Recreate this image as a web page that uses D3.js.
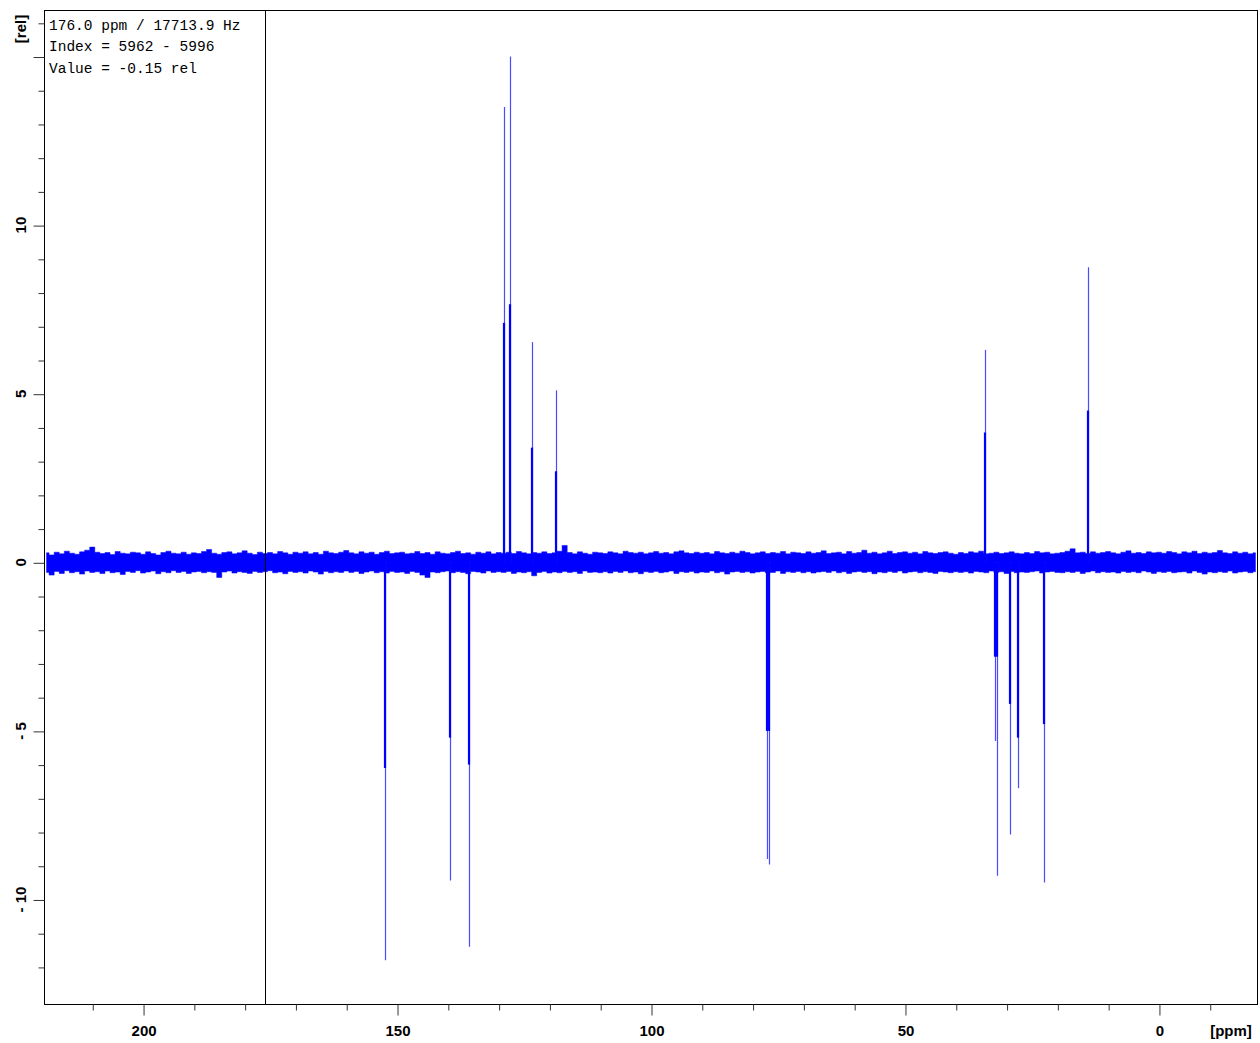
<!DOCTYPE html>
<html>
<head>
<meta charset="utf-8">
<script src="https://cdn.jsdelivr.net/npm/d3@7"></script>
<style>
  html, body { margin: 0; padding: 0; background: #fff; }
  svg { display: block; }
</style>
</head>
<body>
<svg id="chart" width="1260" height="1043"></svg>
<script>
// ---------------- DATA ----------------
const xDomain = [219.5, -19.5];          // ppm (reversed NMR axis)
const yDomain = [16.38, -13.1];          // rel
const xMajorTicks = [200, 150, 100, 50, 0];
const xMinorTicks = [210, 190, 180, 170, 160, 140, 130, 120, 110, 90, 80, 70, 60, 40, 30, 20, 10, -10];
const yMajorTicks = [15, 10, 5, 0, -5, -10];
const yLabelTicks = [10, 5, 0, -5, -10];
const yMinorTicks = [16, 14, 13, 12, 11, 9, 8, 7, 6, 4, 3, 2, 1, -1, -2, -3, -4, -6, -7, -8, -9, -11, -12];
const cursorPpm = 176.0;
const infoLines = ["176.0 ppm / 17713.9 Hz", "Index = 5962 - 5996", "Value = -0.15 rel"];

// peaks: position (ppm), extreme value, shoulder value (rel)
const peakPpm      = [152.4, 139.6, 135.8, 128.9, 127.7, 123.4, 118.7, 77.2, 76.8, 34.3, 32.3, 31.8, 29.3, 27.8, 22.6, 14.0];
const peakTop      = [-11.8, -9.44, -11.4, 13.5, 15.0, 6.53, 5.1, -8.8, -8.96, 6.3, -5.3, -9.3, -8.07, -6.7, -9.5, 8.75];
const peakShoulder = [-6.1, -5.2, -6.0, 7.1, 7.65, 3.4, 2.7, -5.0, -5.0, 3.85, -2.8, -2.8, -4.2, -5.2, -4.8, 4.5];

// baseline noise envelope, 1 ppm bins from 219 down to -19 (rel)
const noisePpmStart = 219;
const noiseUpper = [
 0.28,0.22,0.30,0.25,0.33,0.27,0.24,0.31,0.36,0.45,
 0.30,0.26,0.29,0.23,0.32,0.27,0.25,0.30,0.28,0.24,
 0.31,0.26,0.22,0.29,0.33,0.27,0.25,0.30,0.24,0.28,
 0.26,0.32,0.38,0.27,0.24,0.29,0.31,0.25,0.28,0.34,
 0.27,0.23,0.30,0.26,0.29,0.25,0.32,0.28,0.24,0.30,
 0.27,0.31,0.25,0.29,0.24,0.33,0.28,0.26,0.30,0.35,
 0.28,0.25,0.31,0.27,0.30,0.24,0.29,0.33,0.26,0.28,
 0.30,0.25,0.27,0.32,0.26,0.29,0.24,0.31,0.27,0.25,
 0.29,0.33,0.26,0.28,0.24,0.30,0.27,0.31,0.25,0.29,
 0.27,0.30,0.26,0.32,0.28,0.25,0.29,0.27,0.31,0.26,
 0.28,0.33,0.50,0.29,0.25,0.31,0.27,0.24,0.30,0.28,
 0.26,0.31,0.28,0.25,0.33,0.29,0.27,0.30,0.25,0.28,
 0.32,0.27,0.29,0.25,0.31,0.34,0.28,0.26,0.30,0.27,
 0.29,0.25,0.32,0.28,0.26,0.30,0.27,0.33,0.29,0.25,
 0.28,0.31,0.26,0.29,0.27,0.32,0.25,0.30,0.28,0.26,
 0.31,0.27,0.29,0.34,0.26,0.28,0.30,0.25,0.32,0.27,
 0.29,0.36,0.27,0.30,0.25,0.28,0.33,0.26,0.29,0.31,
 0.27,0.30,0.25,0.32,0.28,0.26,0.29,0.31,0.27,0.24,
 0.29,0.26,0.31,0.28,0.33,0.25,0.27,0.30,0.26,0.28,
 0.31,0.27,0.25,0.29,0.26,0.32,0.28,0.30,0.25,0.27,
 0.29,0.33,0.40,0.28,0.30,0.26,0.31,0.27,0.29,0.32,
 0.28,0.25,0.30,0.34,0.27,0.29,0.26,0.31,0.28,0.30,
 0.27,0.32,0.29,0.25,0.31,0.28,0.33,0.26,0.30,0.27,
 0.29,0.35,0.28,0.26,0.31,0.27,0.30,0.25,0.28
];
const noiseLower = [
 -0.30,-0.38,-0.27,-0.33,-0.25,-0.31,-0.28,-0.35,-0.26,-0.30,
 -0.28,-0.33,-0.26,-0.31,-0.29,-0.36,-0.27,-0.30,-0.25,-0.32,
 -0.29,-0.26,-0.34,-0.28,-0.31,-0.25,-0.30,-0.27,-0.33,-0.29,
 -0.27,-0.31,-0.28,-0.30,-0.45,-0.29,-0.26,-0.32,-0.28,-0.30,
 -0.33,-0.27,-0.30,-0.28,-0.25,-0.31,-0.29,-0.34,-0.27,-0.30,
 -0.28,-0.32,-0.26,-0.29,-0.35,-0.27,-0.31,-0.28,-0.30,-0.26,
 -0.30,-0.27,-0.33,-0.29,-0.26,-0.31,-0.28,-0.32,-0.27,-0.30,
 -0.29,-0.33,-0.27,-0.30,-0.38,-0.45,-0.29,-0.31,-0.28,-0.26,
 -0.31,-0.28,-0.30,-0.34,-0.27,-0.29,-0.32,-0.26,-0.30,-0.28,
 -0.30,-0.27,-0.33,-0.29,-0.31,-0.28,-0.40,-0.30,-0.27,-0.32,
 -0.29,-0.31,-0.27,-0.30,-0.28,-0.33,-0.26,-0.30,-0.29,-0.31,
 -0.28,-0.32,-0.27,-0.30,-0.26,-0.31,-0.29,-0.34,-0.28,-0.30,
 -0.27,-0.31,-0.29,-0.26,-0.33,-0.28,-0.30,-0.27,-0.32,-0.29,
 -0.30,-0.26,-0.31,-0.28,-0.35,-0.29,-0.27,-0.30,-0.28,-0.32,
 -0.29,-0.27,-0.31,-0.30,-0.26,-0.33,-0.28,-0.30,-0.27,-0.31,
 -0.28,-0.32,-0.29,-0.27,-0.30,-0.26,-0.31,-0.28,-0.33,-0.29,
 -0.27,-0.30,-0.28,-0.34,-0.29,-0.31,-0.27,-0.30,-0.26,-0.32,
 -0.29,-0.27,-0.31,-0.28,-0.30,-0.33,-0.27,-0.29,-0.31,-0.28,
 -0.30,-0.28,-0.32,-0.27,-0.29,-0.31,-0.26,-0.30,-0.28,-0.33,
 -0.27,-0.31,-0.29,-0.30,-0.28,-0.26,-0.32,-0.29,-0.27,-0.30,
 -0.31,-0.28,-0.30,-0.27,-0.33,-0.29,-0.26,-0.31,-0.28,-0.30,
 -0.29,-0.32,-0.27,-0.30,-0.28,-0.31,-0.26,-0.29,-0.33,-0.28,
 -0.30,-0.27,-0.31,-0.29,-0.28,-0.32,-0.26,-0.30,-0.35,-0.29,
 -0.31,-0.28,-0.30,-0.26,-0.32,-0.29,-0.27,-0.31,-0.28
];

// ---------------- CHART ----------------
const svg = d3.select("#chart");
const pLeft = 44, pRight = 1258, pTop = 10, pBottom = 1004;
const x = d3.scaleLinear().domain(xDomain).range([pLeft, pRight]);
const y = d3.scaleLinear().domain(yDomain).range([pTop, pBottom]);
const blue = "#0000ff";
const labelFont = "'Liberation Sans', Arial, sans-serif";

svg.append("defs").append("clipPath").attr("id", "clip")
  .append("rect").attr("x", pLeft).attr("y", pTop).attr("width", pRight - pLeft).attr("height", pBottom - pTop);
const plot = svg.append("g").attr("clip-path", "url(#clip)");

// noise band
const noiseData = noiseUpper.map((u, i) => ({ ppm: noisePpmStart - i, u: u, l: noiseLower[i] }));
const area = d3.area().curve(d3.curveStep)
  .x(d => x(d.ppm)).y0(d => y(d.l)).y1(d => y(d.u));
plot.append("path").datum(noiseData).attr("d", area)
  .attr("fill", blue).attr("stroke", blue).attr("stroke-width", 0.5);

// peaks
const peaks = peakPpm.map((p, i) => ({ ppm: p, top: peakTop[i], sh: peakShoulder[i] }));
plot.selectAll("line.tall").data(peaks).enter().append("line")
  .attr("class", "tall")
  .attr("x1", d => Math.round(x(d.ppm)) + 0.5).attr("x2", d => Math.round(x(d.ppm)) + 0.5)
  .attr("y1", y(0)).attr("y2", d => y(d.top))
  .attr("stroke", "#4a4aff").attr("stroke-width", 1.2);
plot.selectAll("line.sh").data(peaks).enter().append("line")
  .attr("class", "sh")
  .attr("x1", d => Math.round(x(d.ppm))).attr("x2", d => Math.round(x(d.ppm)))
  .attr("y1", y(0)).attr("y2", d => y(d.sh))
  .attr("stroke", blue).attr("stroke-width", 2.2);

// cursor line
svg.append("line")
  .attr("x1", Math.round(x(cursorPpm)) + 0.5).attr("x2", Math.round(x(cursorPpm)) + 0.5)
  .attr("y1", pTop).attr("y2", pBottom)
  .attr("stroke", "#000").attr("stroke-width", 1);

// frame
svg.append("rect").attr("x", pLeft + 0.5).attr("y", pTop + 0.5)
  .attr("width", pRight - pLeft - 1).attr("height", pBottom - pTop)
  .attr("fill", "none").attr("stroke", "#000").attr("stroke-width", 1);

// x axis ticks
const xAxisG = svg.append("g").attr("transform", `translate(0.5,${pBottom + 0.5})`);
xAxisG.call(d3.axisBottom(x).tickValues(xMinorTicks).tickSize(6).tickFormat(""));
const xAxisMaj = svg.append("g").attr("transform", `translate(0.5,${pBottom + 0.5})`);
xAxisMaj.call(d3.axisBottom(x).tickValues(xMajorTicks).tickSize(11).tickPadding(10).tickFormat(d3.format("d")));
[xAxisG, xAxisMaj].forEach(g => {
  g.select(".domain").remove();
  g.selectAll(".tick line").attr("stroke", "#333");
});
xAxisMaj.selectAll(".tick text")
  .attr("font-family", labelFont).attr("font-size", 15).attr("font-weight", "bold").attr("fill", "#000");

svg.append("text").attr("x", 1231).attr("y", 1036).attr("text-anchor", "middle")
  .attr("font-family", labelFont).attr("font-size", 15).attr("font-weight", "bold")
  .text("[ppm]");

// y axis ticks
const yAxisG = svg.append("g").attr("transform", `translate(${pLeft + 0.5},0.5)`);
yAxisG.call(d3.axisLeft(y).tickValues(yMinorTicks).tickSize(6).tickFormat(""));
const yAxisMaj = svg.append("g").attr("transform", `translate(${pLeft + 0.5},0.5)`);
yAxisMaj.call(d3.axisLeft(y).tickValues(yMajorTicks).tickSize(11).tickFormat(""));
[yAxisG, yAxisMaj].forEach(g => {
  g.select(".domain").remove();
  g.selectAll(".tick line").attr("stroke", "#333");
});
svg.selectAll("text.ylab").data(yLabelTicks).enter().append("text")
  .attr("class", "ylab")
  .attr("transform", d => `translate(26,${y(d)}) rotate(-90)`)
  .attr("text-anchor", "middle")
  .attr("font-family", labelFont).attr("font-size", 15).attr("font-weight", "bold")
  .text(d => d < 0 ? "- " + Math.abs(d) : String(d));

svg.append("text")
  .attr("transform", `translate(26,29) rotate(-90)`)
  .attr("text-anchor", "middle")
  .attr("font-family", labelFont).attr("font-size", 15).attr("font-weight", "bold")
  .text("[rel]");

// info text
svg.selectAll("text.info").data(infoLines).enter().append("text")
  .attr("class", "info")
  .attr("x", 49).attr("y", (d, i) => 30 + i * 21.3)
  .attr("font-family", "'Liberation Mono', 'Courier New', monospace")
  .attr("font-size", 14.5)
  .attr("fill", "#000")
  .attr("xml:space", "preserve")
  .text(d => d);
</script>
</body>
</html>
